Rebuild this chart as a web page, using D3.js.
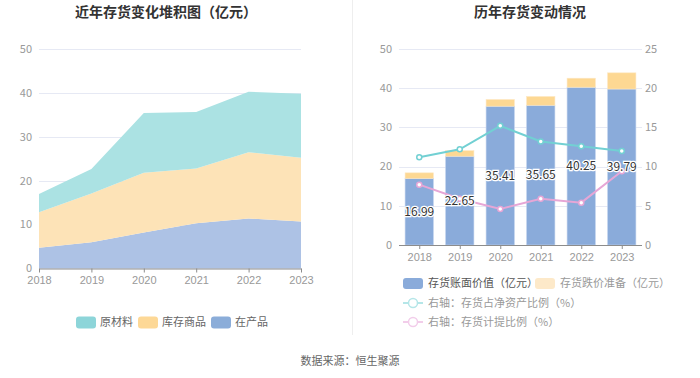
<!DOCTYPE html>
<html>
<head>
<meta charset="utf-8">
<script src="https://cdn.jsdelivr.net/npm/d3@7"></script>
<style>
  body { margin: 0; background: #fff; }
  svg { display: block; font-family: "Noto Sans CJK SC", "Noto Sans", sans-serif; }
</style>
</head>
<body>
<div id="chart"></div>
<script>
const years = ["2018", "2019", "2020", "2021", "2022", "2023"];

// left chart: stacked inventory components (亿元)
const wip = [4.7, 6.0, 8.2, 10.3, 11.4, 10.7];        // 在产品
const goods = [8.1, 11.1, 13.6, 12.5, 15.1, 14.5];    // 库存商品
const raw = [4.19, 5.55, 13.61, 12.85, 13.75, 14.59]; // 原材料

// right chart
const bookValue = [16.99, 22.65, 35.41, 35.65, 40.25, 39.79]; // 存货账面价值
const provision = [1.42, 1.42, 1.71, 2.24, 2.30, 4.13];       // 存货跌价准备
const netAssetRatio = [11.2, 12.2, 15.2, 13.2, 12.6, 12.0];   // 存货占净资产比例 %
const provisionRatio = [7.7, 5.9, 4.6, 5.9, 5.4, 9.4];        // 存货计提比例 %

const W = 700, H = 378;
const svg = d3.select("#chart").append("svg")
  .attr("width", W).attr("height", H);

const gridColor = "#e6e9f4";
const labelColor = "#999";
const axisColor = "#8c8c8c";

// titles
svg.append("text").attr("x", 166).attr("y", 17).attr("text-anchor", "middle")
  .attr("font-size", 14).attr("font-weight", "bold").attr("fill", "#333")
  .text("近年存货变化堆积图（亿元）");
svg.append("text").attr("x", 530).attr("y", 17).attr("text-anchor", "middle")
  .attr("font-size", 14).attr("font-weight", "bold").attr("fill", "#333")
  .text("历年存货变动情况");

// divider
svg.append("line").attr("x1", 352.5).attr("x2", 352.5).attr("y1", 0).attr("y2", 335)
  .attr("stroke", "#eee");

// footer
svg.append("text").attr("x", 350).attr("y", 365).attr("text-anchor", "middle")
  .attr("font-size", 11).attr("fill", "#666").text("数据来源：恒生聚源");

// ---------- left: stacked area ----------
const lx = d3.scalePoint().domain(years).range([39, 301]);
const ly = d3.scaleLinear().domain([0, 50]).range([268.5, 49]);

const left = svg.append("g");
left.append("g").selectAll("line").data(ly.ticks(5).filter(d => d > 0)).join("line")
  .attr("x1", 39).attr("x2", 301)
  .attr("y1", d => Math.round(ly(d)) + 0.5).attr("y2", d => Math.round(ly(d)) + 0.5)
  .attr("stroke", gridColor);

const stackRows = years.map((y, i) => ({ year: y, wip: wip[i], goods: goods[i], raw: raw[i] }));
const stack = d3.stack().keys(["wip", "goods", "raw"])(stackRows);
const areaColors = { wip: "#adc2e5", goods: "#fde3b7", raw: "#abe2e3" };
const area = d3.area()
  .x(d => lx(d.data.year))
  .y0(d => ly(d[0]))
  .y1(d => ly(d[1]));
left.append("g").selectAll("path").data(stack).join("path")
  .attr("d", area)
  .attr("fill", d => areaColors[d.key]);

const lAxisX = left.append("g").attr("transform", `translate(0,${ly(0)})`)
  .call(d3.axisBottom(lx).tickSize(4).tickSizeOuter(0));
lAxisX.select(".domain").attr("stroke", axisColor);
lAxisX.selectAll(".tick line").attr("stroke", axisColor);
lAxisX.selectAll("text").attr("fill", labelColor).attr("font-size", 11).attr("dy", "0.8em");

left.append("g").selectAll("text").data(ly.ticks(5)).join("text")
  .attr("x", 32).attr("y", d => ly(d)).attr("dy", "0.35em")
  .attr("text-anchor", "end").attr("font-size", 11).attr("fill", labelColor)
  .text(d => d);

// left legend
const leftLegend = [
  { name: "原材料", color: "#8dd5d9", x: 76 },
  { name: "库存商品", color: "#fdd896", x: 138 },
  { name: "在产品", color: "#8badd9", x: 211 }
];
const ll = left.append("g").selectAll("g").data(leftLegend).join("g")
  .attr("transform", d => `translate(${d.x},316.5)`);
ll.append("rect").attr("width", 20).attr("height", 12).attr("rx", 3).attr("fill", d => d.color);
ll.append("text").attr("x", 24).attr("y", 6).attr("dy", "0.35em")
  .attr("font-size", 11).attr("fill", "#666").text(d => d.name);

// ---------- right: bars + lines ----------
const rx = d3.scaleBand().domain(years).range([399, 642]).paddingInner(0.3).paddingOuter(0.15);
const ry = d3.scaleLinear().domain([0, 50]).range([245, 49]);
const ry2 = d3.scaleLinear().domain([0, 25]).range([245, 49]);

const right = svg.append("g");
right.append("g").selectAll("line").data(ry.ticks(5).filter(d => d > 0)).join("line")
  .attr("x1", 399).attr("x2", 642)
  .attr("y1", d => Math.round(ry(d)) + 0.5).attr("y2", d => Math.round(ry(d)) + 0.5)
  .attr("stroke", gridColor);

const barData = years.map((y, i) => ({ year: y, book: bookValue[i], prov: provision[i] }));
right.append("g").selectAll("rect").data(barData).join("rect")
  .attr("x", d => rx(d.year)).attr("width", rx.bandwidth())
  .attr("y", d => ry(d.book)).attr("height", d => ry(0) - ry(d.book))
  .attr("fill", "#8aabda").attr("stroke", "#c4d4ee").attr("stroke-width", 0.6);
right.append("g").selectAll("rect").data(barData).join("rect")
  .attr("x", d => rx(d.year)).attr("width", rx.bandwidth())
  .attr("y", d => ry(d.book + d.prov)).attr("height", d => ry(d.book) - ry(d.book + d.prov))
  .attr("fill", "#fdd893").attr("stroke", "#fde8c4").attr("stroke-width", 0.6);

const rAxisX = right.append("g").attr("transform", `translate(0,${ry(0)})`)
  .call(d3.axisBottom(d3.scalePoint().domain(years).range([rx(years[0]) + rx.bandwidth() / 2, rx(years[5]) + rx.bandwidth() / 2])).tickSize(4).tickSizeOuter(0));
rAxisX.select(".domain").remove();
right.append("line").attr("x1", 399).attr("x2", 642).attr("y1", ry(0) + 0.5).attr("y2", ry(0) + 0.5)
  .attr("stroke", axisColor);
rAxisX.selectAll(".tick line").attr("stroke", axisColor);
rAxisX.selectAll("text").attr("fill", labelColor).attr("font-size", 11).attr("dy", "0.8em");

right.append("g").selectAll("text").data(ry.ticks(5)).join("text")
  .attr("x", 392).attr("y", d => ry(d)).attr("dy", "0.35em")
  .attr("text-anchor", "end").attr("font-size", 11).attr("fill", labelColor)
  .text(d => d);
right.append("g").selectAll("text").data(ry2.ticks(5)).join("text")
  .attr("x", 645).attr("y", d => ry2(d)).attr("dy", "0.35em")
  .attr("text-anchor", "start").attr("font-size", 11).attr("fill", labelColor)
  .text(d => d);

const cx = d => rx(d) + rx.bandwidth() / 2;
const lineSeries = [
  { values: netAssetRatio, color: "#72d0d3" },
  { values: provisionRatio, color: "#e6a6d6" }
];
lineSeries.forEach(s => {
  const pts = years.map((y, i) => [cx(y), ry2(s.values[i])]);
  right.append("path").attr("d", d3.line()(pts))
    .attr("fill", "none").attr("stroke", s.color).attr("stroke-width", 2);
  right.append("g").selectAll("circle").data(pts).join("circle")
    .attr("cx", d => d[0]).attr("cy", d => d[1]).attr("r", 2.5)
    .attr("fill", "#fff").attr("stroke", s.color).attr("stroke-width", 1.5);
});

// bar value labels
right.append("g").selectAll("text").data(barData).join("text")
  .attr("x", d => cx(d.year)).attr("y", d => ry(d.book / 2)).attr("dy", "0.35em")
  .attr("text-anchor", "middle").attr("font-size", 12).attr("fill", "#333")
  .attr("stroke", "#fff").attr("stroke-width", 2.5).attr("paint-order", "stroke")
  .text(d => d.book.toFixed(2));

// right legend
const rl = right.append("g");
const rectItems = [
  { name: "存货账面价值（亿元）", color: "#8aabda", x: 403, text: "#555" },
  { name: "存货跌价准备（亿元）", color: "#fde9c9", x: 535, text: "#999" }
];
const ri = rl.selectAll("g.r").data(rectItems).join("g").attr("class", "r")
  .attr("transform", d => `translate(${d.x},278)`);
ri.append("rect").attr("width", 20).attr("height", 11).attr("rx", 3).attr("fill", d => d.color);
ri.append("text").attr("x", 25).attr("y", 5.5).attr("dy", "0.35em")
  .attr("font-size", 11).attr("fill", d => d.text).text(d => d.name);

const lineItems = [
  { name: "右轴：存货占净资产比例（%）", color: "#b5e6e8", y: 303 },
  { name: "右轴：存货计提比例（%）", color: "#f2cdea", y: 322 }
];
const li = rl.selectAll("g.l").data(lineItems).join("g").attr("class", "l")
  .attr("transform", d => `translate(403,${d.y})`);
li.append("line").attr("x1", 0).attr("x2", 20).attr("stroke", d => d.color).attr("stroke-width", 2);
li.append("circle").attr("cx", 10).attr("r", 4.5).attr("fill", "#fff")
  .attr("stroke", d => d.color).attr("stroke-width", 1.5);
li.append("text").attr("x", 25).attr("dy", "0.35em")
  .attr("font-size", 11).attr("fill", "#999").text(d => d.name);
</script>
</body>
</html>
